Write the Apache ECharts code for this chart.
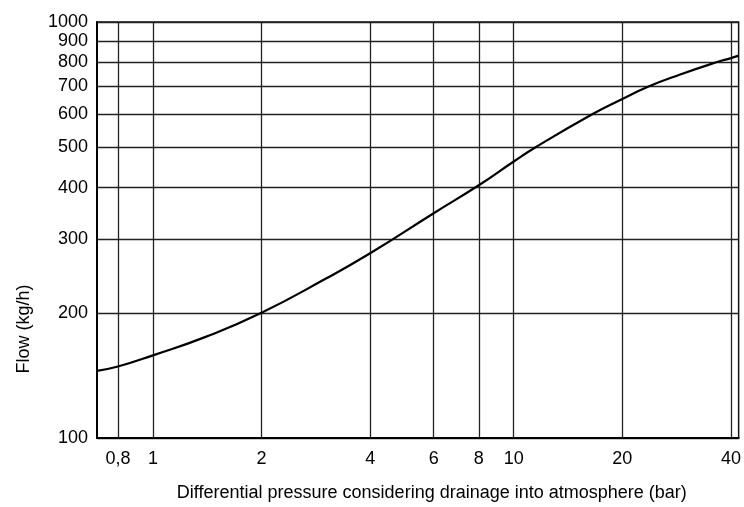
<!DOCTYPE html>
<html>
<head>
<meta charset="utf-8">
<script src="https://cdn.jsdelivr.net/npm/echarts@6/dist/echarts.min.js"></script>
<style>
  html, body { margin: 0; padding: 0; background: #fff; }
  #main { width: 744px; height: 507px; }
</style>
</head>
<body>
<div id="main"></div>
<script>
// differential pressure (bar) and flow (kg/h)
var pressure = [0.7, 0.8, 1, 1.4, 2, 3, 4, 6, 8, 10, 11.5, 16.5, 20, 23.55, 28.8, 36.4, 40, 42];
var flow = [145, 148.5, 158, 175, 200, 241, 278, 347, 405, 462, 500, 600, 653, 699, 747, 800, 819, 830];

var xTicks = [0.8, 1, 2, 4, 6, 8, 10, 20, 40];
var yTicks = [100, 200, 300, 400, 500, 600, 700, 800, 900, 1000];

var font = "'Liberation Sans', Arial, sans-serif";
var chart = echarts.init(document.getElementById("main"));

var points = [];
for (var i = 0; i < pressure.length; i++) {
  points.push([pressure[i], flow[i]]);
}

var option = {
  animation: false,
  grid: {
    left: 97, right: 5, top: 22, bottom: 67,
    show: true, borderColor: "#111", borderWidth: 1.5
  },
  xAxis: {
    type: "log",
    min: 0.7,
    max: 42,
    name: "Differential pressure considering drainage into atmosphere (bar)",
    nameLocation: "middle",
    nameGap: 46,
    nameTextStyle: { color: "#000", fontSize: 18, fontFamily: font, padding: [0, 0, 0, 28] },
    axisLine: { show: true, lineStyle: { color: "#000", width: 2 } },
    axisTick: { show: false, customValues: xTicks },
    axisLabel: {
      customValues: xTicks,
      color: "#000",
      fontSize: 18,
      fontFamily: font,
      margin: 12,
      formatter: function (v) { return String(v).replace(".", ","); }
    },
    splitLine: { show: true, lineStyle: { color: "#222", width: 1.3 } }
  },
  yAxis: {
    type: "log",
    min: 100,
    max: 1000,
    name: "Flow (kg/h)",
    nameLocation: "middle",
    nameGap: 64,
    nameTextStyle: { color: "#000", fontSize: 18, fontFamily: font, padding: [0, 198, 0, 0] },
    axisLine: { show: true, lineStyle: { color: "#000", width: 2 } },
    axisTick: { show: false, customValues: yTicks },
    axisLabel: {
      customValues: yTicks,
      color: "#000",
      fontSize: 18,
      fontFamily: font,
      margin: 9,
      formatter: function (v) { return String(v); }
    },
    splitLine: { show: true, lineStyle: { color: "#222", width: 1.3 } }
  },
  series: [
    {
      type: "line",
      data: points,
      smooth: 0.5,
      showSymbol: false,
      lineStyle: { color: "#000", width: 2.2 }
    }
  ]
};
chart.setOption(option);
</script>
</body>
</html>
